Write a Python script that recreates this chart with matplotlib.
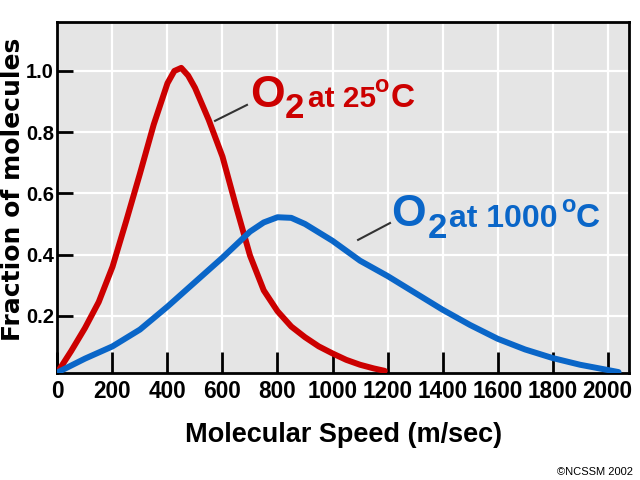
import matplotlib
matplotlib.use("Agg")
import matplotlib.pyplot as plt
from matplotlib import font_manager

# Police étroite si elle existe, sinon Liberation Sans un peu plus petite
noms = {f.name for f in font_manager.fontManager.ttflist}
if "Liberation Sans Narrow" in noms:
    etroite, echelle = "Liberation Sans Narrow", 1.0
else:
    etroite, echelle = "Liberation Sans", 0.86

# Distribution des vitesses, O2 à 25 °C
vitesse_25 = [0, 50, 100, 150, 200, 250, 300, 350, 400, 425, 450, 475, 500,
              550, 600, 650, 700, 750, 800, 850, 900, 950, 1000, 1050, 1100,
              1150, 1190]
fraction_25 = [0.015, 0.085, 0.16, 0.245, 0.36, 0.51, 0.665, 0.825, 0.96,
               1.0, 1.01, 0.985, 0.945, 0.84, 0.72, 0.555, 0.397, 0.283,
               0.215, 0.165, 0.13, 0.10, 0.077, 0.056, 0.04, 0.028, 0.02]

# O2 à 1000 °C
vitesse_1000 = [0, 100, 200, 300, 400, 500, 600, 700, 750, 800, 850, 900,
                1000, 1100, 1200, 1300, 1400, 1500, 1600, 1700, 1800, 1900,
                2000, 2040]
fraction_1000 = [0.015, 0.06, 0.10, 0.155, 0.23, 0.31, 0.39, 0.475, 0.505,
                 0.522, 0.52, 0.50, 0.445, 0.38, 0.33, 0.275, 0.22, 0.17,
                 0.125, 0.09, 0.062, 0.04, 0.023, 0.016]

xticks = list(range(0, 2001, 200))
yticks = [0.2, 0.4, 0.6, 0.8, 1.0]
ytick_labels = ["0.2", "0.4", "0.6", "0.8", "1.0"]

rouge = "#cc0000"
bleu = "#0a66c8"

fig = plt.figure(figsize=(6.4, 4.8), dpi=100)
ax = fig.add_axes([0.0898, 0.2229, 0.8930, 0.7313])
ax.set_facecolor("#e5e5e5")

ax.plot(vitesse_25, fraction_25, color=rouge, lw=4.3, solid_capstyle="round",
        solid_joinstyle="round", zorder=3)
ax.plot(vitesse_1000, fraction_1000, color=bleu, lw=4.3, solid_capstyle="round",
        solid_joinstyle="round", zorder=3)

ax.set_xlim(0, 2078)
ax.set_ylim(0.013, 1.16)
ax.set_xticks(xticks)
ax.set_xticklabels([str(v) for v in xticks])
ax.set_yticks(yticks)
ax.set_yticklabels(ytick_labels)
ax.grid(True, color="white", lw=1.6, zorder=1)
ax.set_axisbelow(True)

for s in ax.spines.values():
    s.set_linewidth(2)
ax.tick_params(axis="x", direction="in", length=15, width=2, pad=5)
ax.tick_params(axis="y", direction="in", length=11.5, width=2, pad=2.5)
for lab in ax.get_xticklabels():
    lab.set_family(etroite)
    lab.set_fontweight("bold")
    lab.set_fontsize(19 * echelle)
for lab in ax.get_yticklabels():
    lab.set_family(etroite)
    lab.set_fontweight("bold")
    lab.set_fontsize(19 * echelle * 0.89)

ax.set_xlabel("Molecular Speed (m/sec)", family="Liberation Sans",
              fontweight="bold", fontsize=19.5, labelpad=14)
fig.text(0.001, 0.605, "Fraction of molecules", rotation=90, ha="left",
         va="center", family="DejaVu Sans", fontweight="bold", fontsize=18)

# Traits de rappel
ax.plot([573, 689], [0.837, 0.889], color="#333333", lw=1.5, zorder=4)
ax.plot([1093, 1209], [0.448, 0.503], color="#333333", lw=1.5, zorder=4)

# Étiquettes des courbes
def piece(x, y, s, size, color, family="Liberation Sans"):
    ax.text(x, y, s, fontsize=size, color=color, family=family,
            fontweight="bold", ha="left", va="baseline", zorder=5)

piece(700, 0.882, "O", 32, rouge)
piece(828, 0.846, "2", 25, rouge)
piece(910, 0.882, "at 25", 25 * echelle, rouge, etroite)
piece(1153, 0.931, "o", 17, rouge)
piece(1212, 0.882, "C", 24, rouge)

piece(1213, 0.492, "O", 32, bleu)
piece(1346, 0.454, "2", 25, bleu)
piece(1425, 0.490, "at 1000", 23, bleu)
piece(1831, 0.539, "o", 17, bleu)
piece(1884, 0.490, "C", 24, bleu)

fig.text(0.989, 0.0104, "\u00a9NCSSM 2002", ha="right", va="baseline",
         family=etroite, fontsize=10 * (0.8 if echelle < 1 else 1.0))

fig.savefig("out.png", dpi=100)
